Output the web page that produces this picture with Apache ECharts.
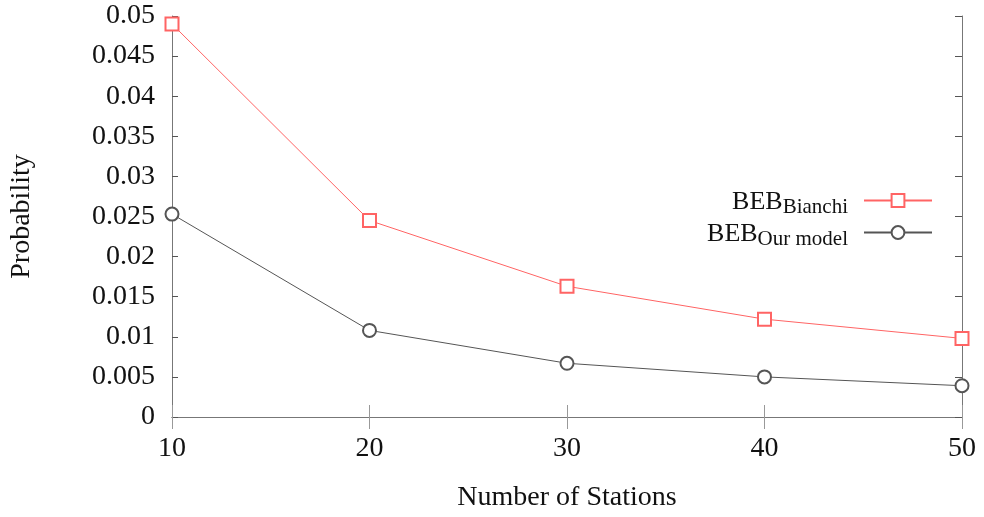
<!DOCTYPE html>
<html>
<head>
<meta charset="utf-8">
<script src="https://cdn.jsdelivr.net/npm/echarts@6/dist/echarts.min.js"></script>
<style>html,body{margin:0;padding:0;background:#fff}#c{width:984px;height:517px}</style>
</head>
<body>
<div id="c"></div>
<script>
const stations = [10, 20, 30, 40, 50];
const bianchi = [0.0490, 0.0245, 0.0163, 0.0122, 0.0098];
const ourModel = [0.0253, 0.0108, 0.0067, 0.0050, 0.0039];
const yTicks = [0, 0.005, 0.01, 0.015, 0.02, 0.025, 0.03, 0.035, 0.04, 0.045, 0.05];

const FONT = 'Liberation Serif';
const frame = { color: '#777', width: 1 };
const rich = {
  a: { fontFamily: FONT, fontSize: 26, color: '#111', lineHeight: 26, padding: [4, 0, 0, 0], verticalAlign: 'middle' },
  s: { fontFamily: FONT, fontSize: 21, color: '#111', lineHeight: 21, padding: [14, 11, 0, 0], verticalAlign: 'middle' }
};
function legendFor(name, top) {
  return {
    orient: 'vertical', align: 'right', right: 51, top: top, padding: 0,
    itemWidth: 68, itemHeight: 16,
    data: [name],
    formatter: function (n) {
      return n === 'bianchi' ? '{a|BEB}{s|Bianchi}' : '{a|BEB}{s|Our model}';
    },
    textStyle: { rich: rich }
  };
}
const chart = echarts.init(document.getElementById('c'));
chart.setOption({
  animation: false,
  textStyle: { fontFamily: FONT },
  grid: { left: 172, right: 22, top: 16, bottom: 98 },
  legend: [legendFor('bianchi', 183), legendFor('our', 215)],
  xAxis: [{
    type: 'value', min: 10, max: 50, interval: 10, position: 'bottom',
    name: 'Number of Stations', nameLocation: 'middle', nameGap: 67,
    nameTextStyle: { fontFamily: FONT, fontSize: 28, color: '#111' },
    axisLine: { lineStyle: frame },
    axisTick: { inside: true, length: 12, lineStyle: { color: '#999' } },
    axisLabel: { fontFamily: FONT, fontSize: 28, color: '#111', margin: 18 },
    splitLine: { show: false }
  }, {
    type: 'value', min: 10, max: 50, interval: 10, position: 'top',
    axisLine: { show: true, lineStyle: frame },
    axisTick: { inside: true, length: 12, lineStyle: { color: '#999' } },
    axisLabel: { show: false }, splitLine: { show: false }
  }],
  yAxis: [{
    type: 'value', min: 0, max: 0.05, interval: 0.005, position: 'left',
    name: 'Probability', nameLocation: 'middle', nameGap: 136,
    nameTextStyle: { fontFamily: FONT, fontSize: 28, color: '#111' },
    axisLine: { show: true, lineStyle: frame },
    axisTick: { inside: true, length: 6, lineStyle: { color: '#555' } },
    axisLabel: {
      fontFamily: FONT, fontSize: 28, color: '#111', margin: 17,
      formatter: function (v) { const i = yTicks.findIndex(t => Math.abs(t - v) < 1e-9); return i >= 0 ? String(yTicks[i]) : ''; }
    },
    splitLine: { show: false }
  }, {
    type: 'value', min: 0, max: 0.05, interval: 0.005, position: 'right',
    axisLine: { show: true, lineStyle: frame },
    axisTick: { inside: true, length: 7, lineStyle: { color: '#555' } },
    axisLabel: { show: false }, splitLine: { show: false }
  }],
  series: [{
    name: 'bianchi', type: 'line', clip: false,
    data: stations.map((s, i) => [s, bianchi[i]]),
    symbol: 'emptyRect', symbolSize: 13,
    lineStyle: { color: '#ff6464', width: 1 },
    itemStyle: { color: '#ff6464', borderColor: '#ff6464', borderWidth: 1 }
  }, {
    name: 'our', type: 'line', clip: false,
    data: stations.map((s, i) => [s, ourModel[i]]),
    symbol: 'emptyCircle', symbolSize: 13,
    lineStyle: { color: '#555', width: 1 },
    itemStyle: { color: '#555', borderColor: '#555', borderWidth: 1 }
  }]
});
</script>
</body>
</html>
